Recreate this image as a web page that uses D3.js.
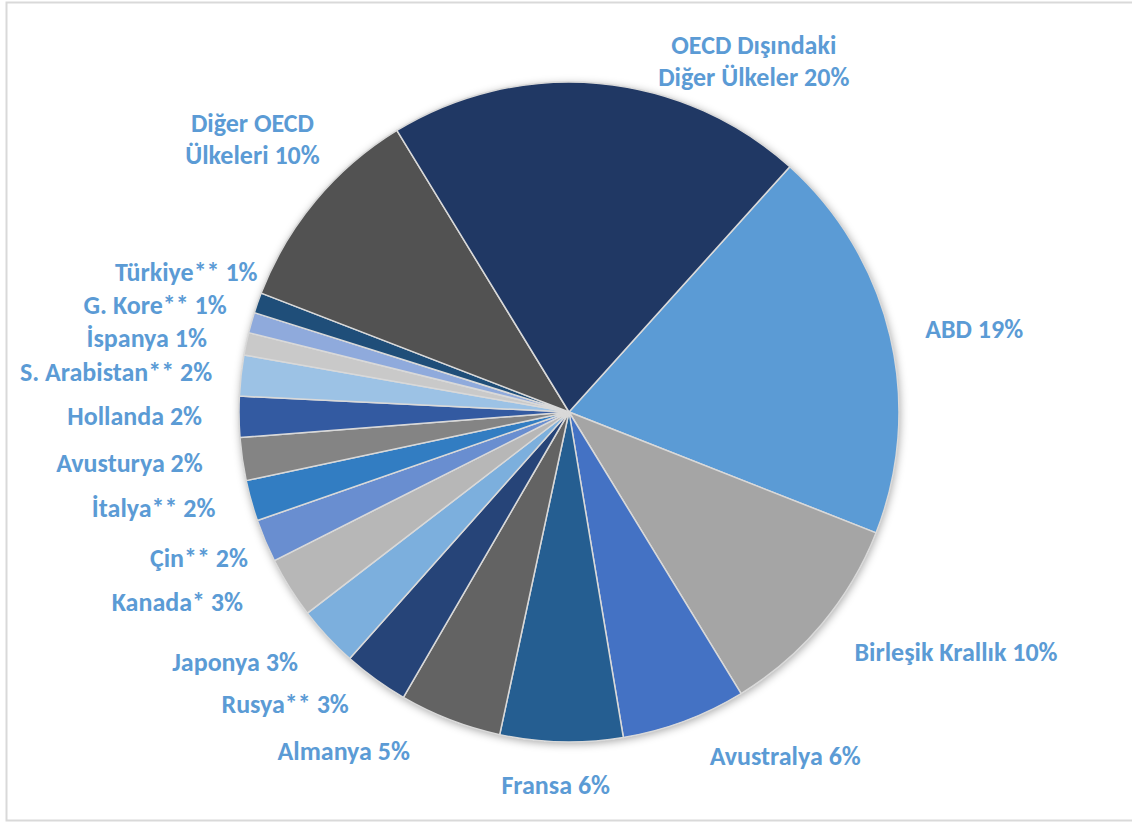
<!DOCTYPE html>
<html>
<head>
<meta charset="utf-8">
<script src="https://cdn.jsdelivr.net/npm/d3@7"></script>
<style>
    body { margin: 0; background: #fff; }
    svg { display: block; }
    .label { font-family: Carlito, Calibri, Lato, sans-serif; font-weight: 700; fill: #5b9bd5; }
</style>
</head>
<body>
<div id="chart"></div>
<script>
// slices in clockwise order, first one starts at ~42deg
const countries = ["ABD", "Birleşik Krallık", "Avustralya", "Fransa", "Almanya", "Rusya**", "Japonya", "Kanada*",
    "Çin**", "İtalya**", "Avusturya", "Hollanda", "S. Arabistan**", "İspanya", "G. Kore**", "Türkiye**",
    "Diğer OECD Ülkeleri", "OECD Dışındaki Diğer Ülkeler"];
const shares = [19.3, 10.3, 6.1, 6.0, 5.0, 3.2, 3.0, 3.0, 2.1, 2.0, 2.1, 2.0, 2.0, 1.1, 1.0, 1.0, 10.4, 20.4];
const sliceColors = ["#5b9bd5", "#a5a5a5", "#4472c4", "#255e91", "#636363", "#264478", "#7cafdd", "#b7b7b7",
    "#698ed0", "#327dc2", "#848484", "#335aa1", "#9cc2e5", "#c9c9c9", "#8faadc", "#1f4e79", "#525252", "#203864"];

// labels that were dragged away from their default spot (px)
const labelNudge = {
    "OECD Dışındaki Diğer Ülkeler": [138, 44],
    "Diğer OECD Ülkeleri": [31, -8],
    "ABD": [1, 6],
    "Birleşik Krallık": [6, -10],
    "Avustralya": [49, -14],
    "Fransa": [-3, -8],
    "Almanya": [-58, -17],
    "Rusya**": [-14, -20],
    "Japonya": [-4, -15],
    "Kanada*": [-17, -17],
    "Çin**": [15, -6],
    "İtalya**": [-2, -9],
    "Avusturya": [-5, -5],
    "Hollanda": [-2, -2],
    "S. Arabistan**": [6, 3],
    "İspanya": [-5, 6],
    "G. Kore**": [9, -2],
    "Türkiye**": [33, -11]
};

const width = 1132, height = 823;
const cx = 569, cy = 412, radius = 330;
const startDeg = 42;

const data = countries.map((name, i) => ({ name, value: shares[i], color: sliceColors[i] }));
const total = d3.sum(shares);

const svg = d3.select("#chart").append("svg")
    .attr("width", width)
    .attr("height", height);

// chart frame
svg.append("rect")
    .attr("x", 6.5).attr("y", 2.5)
    .attr("width", width + 10).attr("height", 818)
    .attr("fill", "none")
    .attr("stroke", "#d9d9d9")
    .attr("stroke-width", 2);

const defs = svg.append("defs");
defs.append("filter")
    .attr("id", "shadow")
    .attr("x", "-10%").attr("y", "-10%").attr("width", "120%").attr("height", "120%")
    .append("feDropShadow")
    .attr("dx", 1).attr("dy", 2)
    .attr("stdDeviation", 4)
    .attr("flood-color", "#000")
    .attr("flood-opacity", 0.35);

const pie = d3.pie()
    .sort(null)
    .value(d => d.value)
    .startAngle(startDeg * Math.PI / 180)
    .endAngle(startDeg * Math.PI / 180 + 2 * Math.PI);

const arc = d3.arc().innerRadius(0).outerRadius(radius);
const arcs = pie(data);

const g = svg.append("g")
    .attr("transform", `translate(${cx},${cy})`);

g.append("circle")
    .attr("r", radius)
    .attr("fill", "#fff")
    .attr("filter", "url(#shadow)");

g.selectAll(".slice")
    .data(arcs)
    .enter()
    .append("path")
    .attr("class", "slice")
    .attr("d", arc)
    .attr("fill", d => d.data.color)
    .attr("stroke", "#d9d9d9")
    .attr("stroke-width", 1.5)
    .attr("stroke-linejoin", "round");

// labels: outside end, nearest corner sits on a ring just outside the pie
const fontSize = 26, lineHeight = 32, labelRadius = radius + 35;
const clamp = v => Math.max(-1, Math.min(1, v));

const labels = svg.append("g");

arcs.forEach(d => {
    const text = `${d.data.name} ${Math.round(d.data.value / total * 100)}%`;
    const t = labels.append("text")
        .attr("class", "label")
        .attr("font-size", fontSize)
        .attr("text-anchor", "middle");

    // measure, wrap into two balanced lines when too long
    const probe = t.append("tspan").text(text);
    let lines = [text];
    if (probe.node().getComputedTextLength() > 230) {
        const words = text.split(" ");
        let best = null;
        for (let k = 1; k < words.length; k++) {
            const a = words.slice(0, k).join(" "), b = words.slice(k).join(" ");
            probe.text(a); const wa = probe.node().getComputedTextLength();
            probe.text(b); const wb = probe.node().getComputedTextLength();
            const m = Math.max(wa, wb);
            if (!best || m < best.m) best = { m, lines: [a, b] };
        }
        lines = best.lines;
    }
    probe.remove();

    const spans = lines.map(l => t.append("tspan").text(l));
    const w = d3.max(spans, s => s.node().getComputedTextLength());
    const h = lines.length * lineHeight;

    const a = (d.startAngle + d.endAngle) / 2;
    const nudge = labelNudge[d.data.name] || [0, 0];
    const px = cx + labelRadius * Math.sin(a) + nudge[0];
    const py = cy - labelRadius * Math.cos(a) + nudge[1];
    const mx = px + clamp(1.5 * Math.sin(a)) * w / 2;
    const my = py - clamp(1.5 * Math.cos(a)) * h / 2;

    spans.forEach((s, i) => {
        s.attr("x", mx)
         .attr("y", my - h / 2 + lineHeight * (i + 0.5))
         .attr("dominant-baseline", "central");
    });
});
</script>
</body>
</html>
